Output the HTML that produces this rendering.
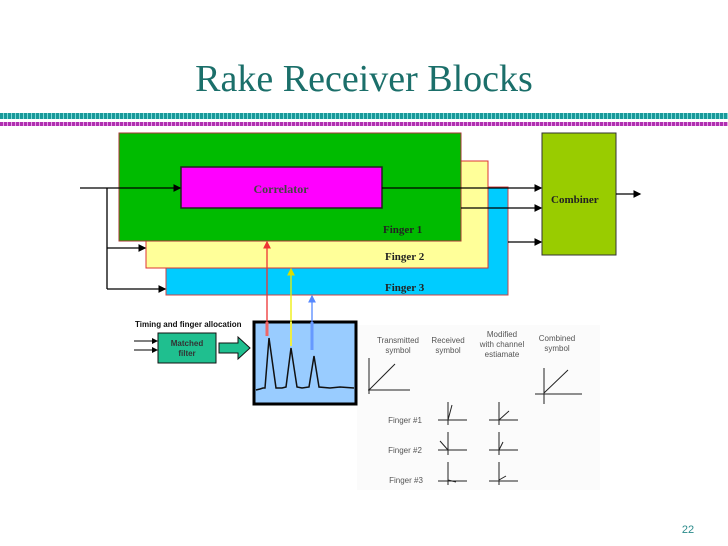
<!DOCTYPE html>
<html><head><meta charset="utf-8"><style>
body{margin:0;width:728px;height:546px;background:#fff;overflow:hidden;position:relative;font-family:"Liberation Serif",serif}
.a{position:absolute}
</style></head><body>
<div class="a" style="left:0;top:57px;width:728px;text-align:center;font-size:38px;color:#1b6f6a;line-height:44px">Rake Receiver Blocks</div>
<div class="a" style="left:0;top:113px;width:728px;height:6px;background:repeating-linear-gradient(90deg,#1a9a9a 0 3px,#7fd8d8 3px 4px)"></div>
<div class="a" style="left:0;top:122px;width:728px;height:4px;background:repeating-linear-gradient(90deg,#b030b0 0 3px,#e8a0e8 3px 4px)"></div>
<svg class="a" style="left:0;top:0" width="728" height="546">
<defs><marker id="m" markerWidth="6" markerHeight="6" refX="5" refY="3" orient="auto"><path d="M0,0L6,3L0,6z" fill="#000"/></marker>
<marker id="r" markerWidth="6" markerHeight="6" refX="5" refY="3" orient="auto"><path d="M0,0L6,3L0,6z" fill="#e33"/></marker>
<marker id="y" markerWidth="6" markerHeight="6" refX="5" refY="3" orient="auto"><path d="M0,0L6,3L0,6z" fill="#dd0"/></marker>
<marker id="b" markerWidth="6" markerHeight="6" refX="5" refY="3" orient="auto"><path d="M0,0L6,3L0,6z" fill="#58f"/></marker></defs>
<rect x="166" y="187" width="342" height="108" fill="#00ccff" stroke="#c44" stroke-width="1"/>
<rect x="146" y="161" width="342" height="107" fill="#ffff99" stroke="#d33" stroke-width="1"/>
<rect x="119" y="133" width="342" height="108" fill="#00bb00" stroke="#a33" stroke-width="1"/>
<rect x="181" y="167" width="201" height="41" fill="#ff00ff" stroke="#222" stroke-width="1.5"/>
<rect x="542" y="133" width="74" height="122" fill="#99cc00" stroke="#333" stroke-width="1"/>
<g stroke="#000" stroke-width="1.3" fill="none">
<line x1="80" y1="188" x2="180" y2="188" marker-end="url(#m)"/>
<polyline points="107,188 107,289"/>
<line x1="107" y1="248" x2="145" y2="248" marker-end="url(#m)"/>
<line x1="107" y1="289" x2="165" y2="289" marker-end="url(#m)"/>
<line x1="382" y1="188" x2="541" y2="188" marker-end="url(#m)"/>
<line x1="461" y1="208" x2="541" y2="208" marker-end="url(#m)"/>
<line x1="508" y1="242" x2="541" y2="242" marker-end="url(#m)"/>
<line x1="616" y1="194" x2="640" y2="194" marker-end="url(#m)"/>
</g>
<g font-family="Liberation Serif,serif" font-weight="bold" font-size="11" fill="#222">
<text x="281" y="193" text-anchor="middle" fill="#444" font-size="12">Correlator</text>
<text x="551" y="203">Combiner</text>
<text x="383" y="233">Finger 1</text>
<text x="385" y="260">Finger 2</text>
<text x="385" y="291">Finger 3</text>
</g>
<rect x="357" y="325" width="243" height="165" fill="#fbfbfb"/>
<rect x="254" y="322" width="102" height="82" fill="#99ccff" stroke="#000" stroke-width="3"/>
<polyline points="256,390 260,389 263,388 265,388 269,338 276,388 282,388 286,387 291,348 297,387 302,388 309,387 314,356 319,387 330,388 340,387 354,388" fill="none" stroke="#111" stroke-width="1.5"/>
<line x1="267" y1="336" x2="267" y2="242" stroke="#e33" stroke-width="1.3" marker-end="url(#r)"/>
<line x1="291" y1="346" x2="291" y2="269" stroke="#ee0" stroke-width="1.3" marker-end="url(#y)"/>
<line x1="312" y1="350" x2="312" y2="296" stroke="#58f" stroke-width="1.3" marker-end="url(#b)"/>
<line x1="267" y1="322" x2="267" y2="336" stroke="#e66" stroke-width="3"/>
<line x1="291" y1="322" x2="291" y2="346" stroke="#ee4" stroke-width="2"/>
<line x1="312" y1="322" x2="312" y2="350" stroke="#69f" stroke-width="3"/>
<text x="135" y="327" font-family="Liberation Sans,sans-serif" font-weight="bold" font-size="8" fill="#111">Timing and finger allocation</text>
<rect x="158" y="333" width="58" height="30" fill="#1fbf8f" stroke="#111" stroke-width="1"/>
<text x="187" y="346" text-anchor="middle" font-family="Liberation Sans,sans-serif" font-weight="bold" font-size="8" fill="#333">Matched</text>
<text x="187" y="356" text-anchor="middle" font-family="Liberation Sans,sans-serif" font-weight="bold" font-size="8" fill="#333">filter</text>
<line x1="134" y1="341" x2="157" y2="341" stroke="#000" marker-end="url(#m)"/>
<line x1="134" y1="350" x2="157" y2="350" stroke="#000" marker-end="url(#m)"/>
<path d="M219,343 H238 V337 L250,348 L238,359 V353 H219 Z" fill="#1fbf8f" stroke="#111"/>
<g font-family="Liberation Sans,sans-serif" font-size="8" fill="#555" text-anchor="middle">
<text x="398" y="343">Transmitted</text><text x="398" y="353">symbol</text>
<text x="448" y="343">Received</text><text x="448" y="353">symbol</text>
<text x="502" y="337">Modified</text><text x="502" y="347">with channel</text><text x="502" y="357">estiamate</text>
<text x="557" y="341">Combined</text><text x="557" y="351">symbol</text>
<text x="405" y="423">Finger #1</text><text x="405" y="453">Finger #2</text><text x="406" y="483">Finger #3</text>
</g>
<g stroke="#222" stroke-width="1" fill="none">
<path d="M368,390H410M369,358V394M369,390L395,364"/>
<path d="M535,394H582M544,368V404M544,393L568,370"/>
<path d="M438,420H467M448,402V425M448,420L452,405"/>
<path d="M489,420H518M499,402V425M499,420L509,411"/>
<path d="M438,450H467M448,432V455M448,450L440,441"/>
<path d="M489,450H518M499,432V455M499,450L503,442"/>
<path d="M438,481H467M448,462V485M448,480L456,482"/>
<path d="M489,481H518M499,462V485M499,480L506,476"/>
</g>
<text x="688" y="533" font-family="Liberation Sans,sans-serif" font-size="11" fill="#2a8a8a" text-anchor="middle">22</text>
</svg>
</body></html>
